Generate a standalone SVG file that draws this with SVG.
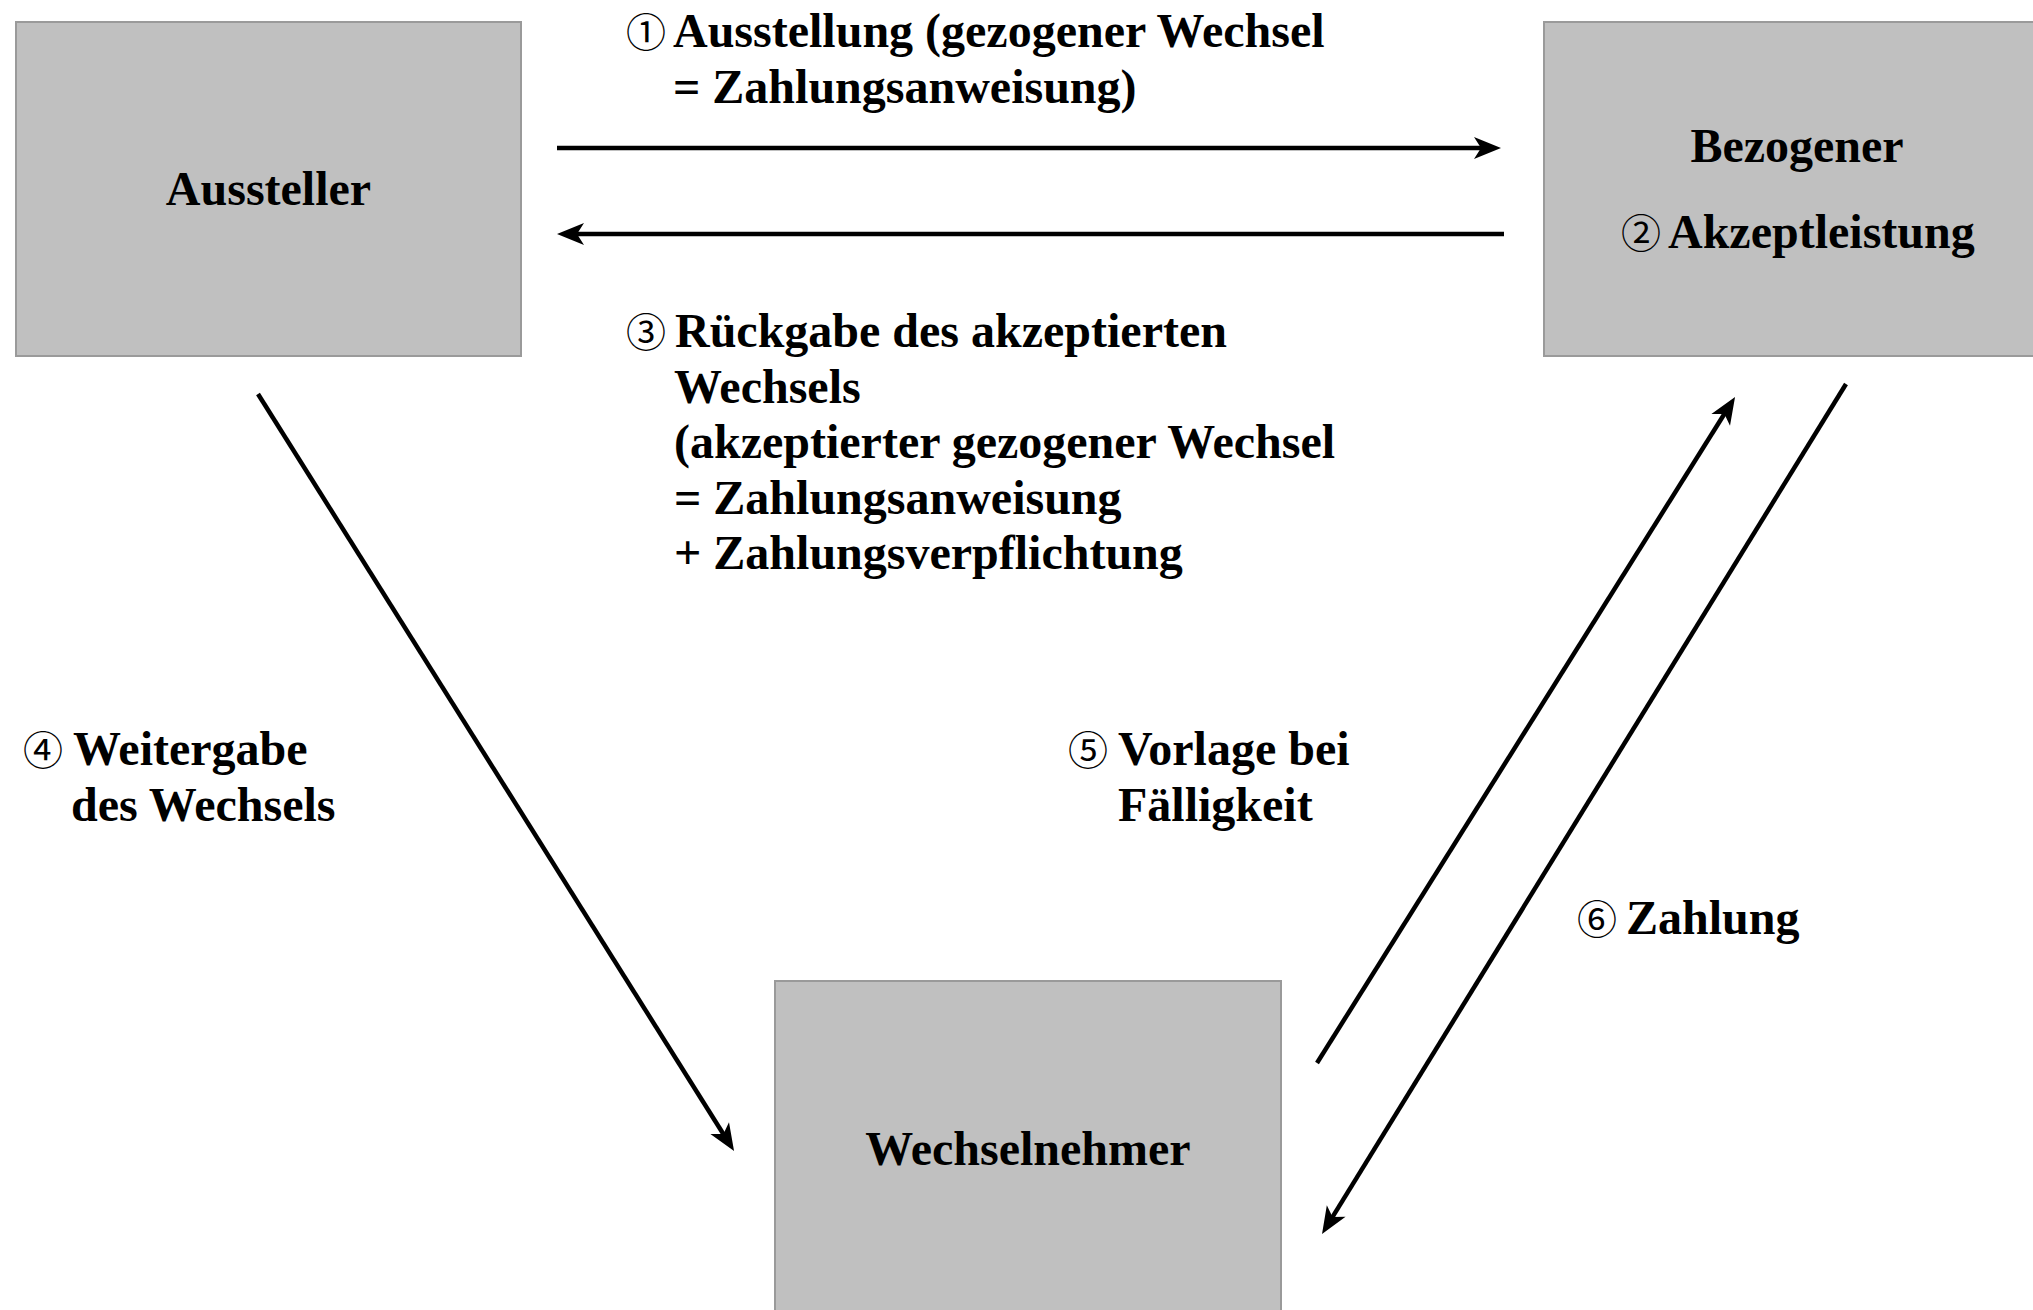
<svg xmlns="http://www.w3.org/2000/svg" width="2033" height="1310" viewBox="0 0 2033 1310">
<defs>
<style>
.box{fill:#c0c0c0;stroke:#9a9a9a;stroke-width:2}
.t{font-family:"Liberation Serif","Times New Roman","Noto Sans CJK JP",serif;font-weight:bold;font-size:48px;fill:#000}
.n{font-family:"Noto Sans CJK JP","DejaVu Sans",sans-serif;font-weight:normal;font-size:40px}
.c{text-anchor:middle}
.ln{stroke:#000;stroke-width:4.5;fill:none;marker-end:url(#ah)}
</style>
<marker id="ah" markerUnits="userSpaceOnUse" markerWidth="30" markerHeight="24" refX="16" refY="11" orient="auto" overflow="visible">
<path d="M0,0 L27,11 L0,22 L7,11 z" fill="#000"/>
</marker>
</defs>
<rect width="2033" height="1310" fill="#fff"/>
<g id="aussteller">
<rect class="box" x="16" y="22" width="505" height="334"/>
<text class="t c" x="268.5" y="205">Aussteller</text>
</g>
<g id="bezogener">
<rect class="box" x="1544" y="22" width="506" height="334"/>
<text class="t c" x="1797" y="162">Bezogener</text>
<text class="t" y="248"><tspan class="n" x="1621">②</tspan><tspan x="1668">Akzeptleistung</tspan></text>
</g>
<g id="wechselnehmer">
<rect class="box" x="775" y="981" width="506" height="334"/>
<text class="t c" x="1028" y="1165">Wechselnehmer</text>
</g>
<g id="connectors">
<line class="ln" x1="557" y1="148" x2="1490" y2="148"/>
<line class="ln" x1="1504" y1="234" x2="568" y2="234"/>
<line class="ln" x1="258" y1="394" x2="728.2" y2="1141.7"/>
<line class="ln" x1="1317" y1="1063" x2="1729.2" y2="406.3"/>
<line class="ln" x1="1846" y1="384" x2="1327.8" y2="1224.6"/>
</g>
<g id="labels">
<text class="t" y="47"><tspan class="n" x="626">①</tspan><tspan x="673">Ausstellung (gezogener Wechsel</tspan><tspan x="673" y="102.5">= Zahlungsanweisung)</tspan></text>
<text class="t" y="347"><tspan class="n" x="626">③</tspan><tspan x="675">Rückgabe des akzeptierten</tspan><tspan x="674" y="402.5">Wechsels</tspan><tspan x="674" y="458">(akzeptierter gezogener Wechsel</tspan><tspan x="674" y="513.5">= Zahlungsanweisung</tspan><tspan x="674" y="569">+ Zahlungsverpflichtung</tspan></text>
<text class="t" y="765"><tspan class="n" x="23">④</tspan><tspan x="73">Weitergabe</tspan><tspan x="71" y="821">des Wechsels</tspan></text>
<text class="t" y="765"><tspan class="n" x="1068">⑤</tspan><tspan x="1118">Vorlage bei</tspan><tspan x="1118" y="821">Fälligkeit</tspan></text>
<text class="t" y="934"><tspan class="n" x="1577">⑥</tspan><tspan x="1626">Zahlung</tspan></text>
</g>
</svg>
